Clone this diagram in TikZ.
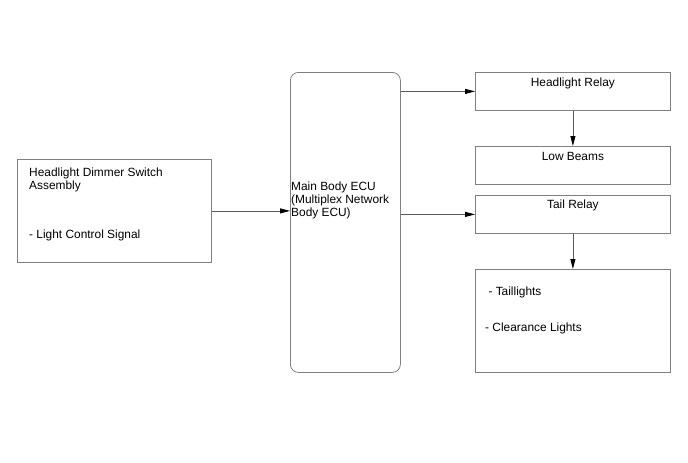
\documentclass[tikz,border=0pt]{standalone}
\usepackage{fontspec}
\setmainfont{Liberation Sans}
\usetikzlibrary{arrows.meta, positioning}

\begin{document}
\begin{tikzpicture}[x=1pt, y=-1pt,
    box/.style={rectangle, draw=black!50, line width=0.8pt, inner sep=0pt,
                anchor=north west, minimum width=195pt, minimum height=38pt},
    ecubox/.style={box, rounded corners=8pt, minimum width=110pt, minimum height=300pt},
    txt/.style={font=\fontsize{11.9}{13}\selectfont, inner sep=0pt, align=left},
    arr/.style={-{Triangle[length=10pt,width=5pt,color=black]}, line width=0.8pt, draw=black!65}
]
\useasboundingbox (0,0) rectangle (688,463);

% boxes
\node[box, minimum width=194pt, minimum height=103pt] (dim) at (17,159) {};
\node[ecubox] (ecu) at (290,72) {};
\node[box] (hr) at (475,72) {};
\node[box] (lb) at (475,146) {};
\node[box] (tr) at (475,195) {};
\node[box, minimum height=103pt] (lights) at (475,269) {};

% texts
\node[txt, below right=9pt and 12pt of dim.north west] (dimtxt)
    {Headlight Dimmer Switch\\Assembly\\[36pt]- Light Control Signal};
\node[txt, below right=110pt and 1pt of ecu.north west] (ecutxt)
    {Main Body ECU\\(Multiplex Network\\Body ECU)};
\node[txt, below=6pt of hr.north] (hrtxt) {Headlight Relay};
\node[txt, below=6pt of lb.north] (lbtxt) {Low Beams};
\node[txt, below=5pt of tr.north] (trtxt) {Tail Relay};
\node[txt, below right=18pt and 10pt of lights.north west] (lightstxt)
    {~- Taillights\\[23pt]- Clearance Lights};

% connectors
\draw[arr] (dim.east) -- (dim.east -| ecu.west);
\draw[arr] (hr.west -| ecu.east) -- (hr.west);
\draw[arr] (tr.west -| ecu.east) -- (tr.west);
\draw[arr] (hr.south) -- (lb.north);
\draw[arr] (tr.south) -- (lights.north);
\end{tikzpicture}
\end{document}
